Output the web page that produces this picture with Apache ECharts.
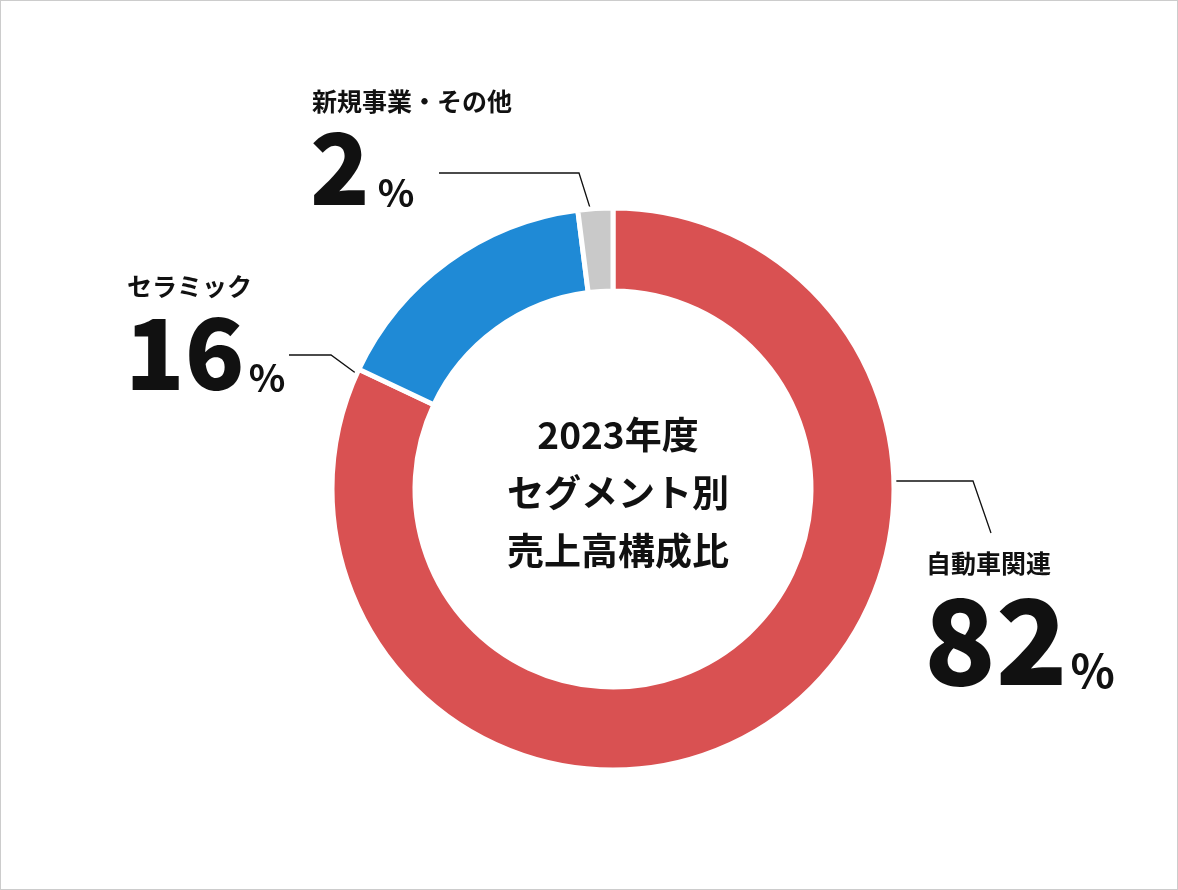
<!DOCTYPE html>
<html><head><meta charset="utf-8">
<script src="https://cdn.jsdelivr.net/npm/echarts@6/dist/echarts.min.js"></script>
<style>
html,body{margin:0;padding:0;background:#fff}
#chart{width:1176px;height:888px;border:1px solid #ccc}
</style></head><body>
<div id="chart"></div>
<script>
const segments = ['自動車関連', 'セラミック', '新規事業・その他'];
const shares = [82, 16, 2];
const colors = ['#d95152', '#1f8ad6', '#c9c9c9'];
const centerTitle = '2023年度\nセグメント別\n売上高構成比';

const font = '"Noto Sans CJK JP", "Noto Sans", sans-serif';
const chart = echarts.init(document.getElementById('chart'));

// label anchor positions (name top-left) and leader line points
const labelSpots = [
  { x: 925, y: 550, big: 118, pct: 46, line: [[858, 480], [972, 480], [990, 532]] },
  { x: 126, y: 273, big: 98, pct: 38, line: [[288, 354], [330, 354], [375, 387]] },
  { x: 311, y: 88, big: 98, pct: 38, line: [[438, 172], [578, 172], [590, 210]] }
];

const graphics = [];
segments.forEach((name, i) => {
  const s = labelSpots[i];
  graphics.push({ type: 'text', left: s.x, top: s.y,
    style: { text: name, font: 'bold 25px ' + font, fill: '#111' } });
  const numW = String(shares[i]).length * s.big * 0.57;
  graphics.push({ type: 'text', left: s.x - 2, top: s.y + 30,
    style: { text: String(shares[i]), font: '900 ' + s.big + 'px ' + font, fill: '#111' } });
  graphics.push({ type: 'text', left: s.x + numW + 10, top: s.y + 30 + s.big * 0.56,
    style: { text: '%', font: 'bold ' + s.pct + 'px ' + font, fill: '#111' } });
  graphics.push({ type: 'polyline', shape: { points: s.line },
    style: { stroke: '#111', lineWidth: 1.3, fill: null } });
});

chart.setOption({
  color: colors,
  animation: false,
  title: {
    text: centerTitle, left: 612, top: 400, textAlign: 'center',
    textStyle: { fontFamily: font, fontSize: 37, fontWeight: 'bold', color: '#111', lineHeight: 58 }
  },
  graphic: graphics,
  series: [{
    type: 'pie',
    center: [612, 488],
    radius: [198, 281],
    startAngle: 90,
    clockwise: true,
    label: { show: false },
    labelLine: { show: false },
    itemStyle: { borderColor: '#fff', borderWidth: 5 },
    data: segments.map((n, i) => ({ name: n, value: shares[i] }))
  }]
});
</script>
</body></html>
